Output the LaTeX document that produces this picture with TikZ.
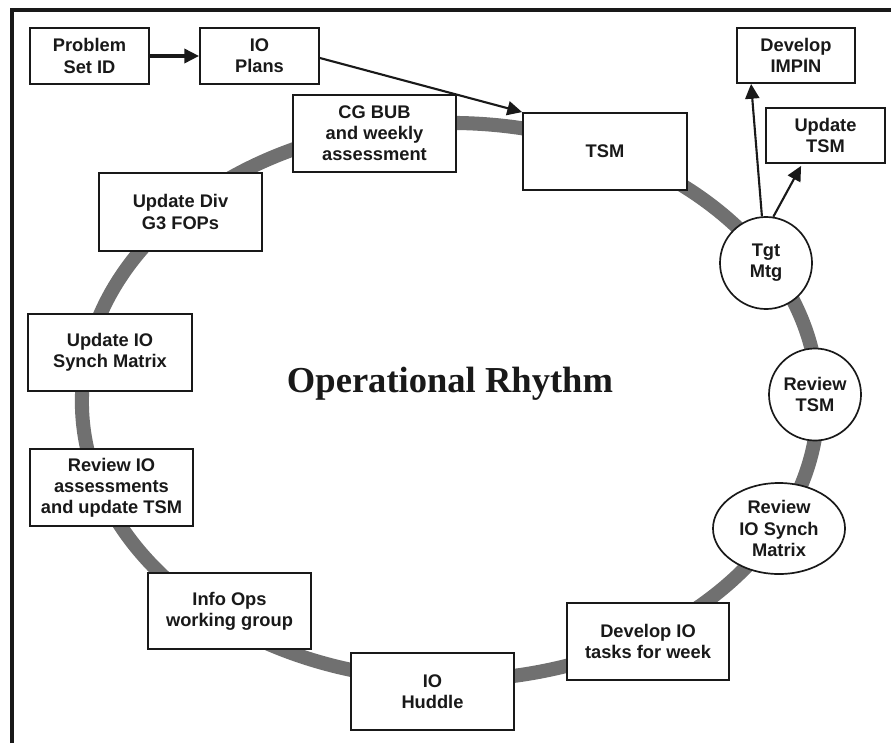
\documentclass[tikz,border=0pt]{standalone}
\usepackage{fontspec}
\setmainfont{Liberation Sans}
\newfontfamily\titlefont{Liberation Serif}
\usetikzlibrary{arrows.meta,shapes.geometric}
\definecolor{ringgray}{HTML}{707070}
\tikzset{
  lbl/.style={font=\fontsize{13}{15}\selectfont\bfseries, align=center, text=black!90},
  box/.style={lbl, draw=black!90, fill=white, line width=1.3pt, rectangle, inner sep=0pt},
  circ/.style={lbl, draw=black!90, fill=white, line width=1.2pt, circle, inner sep=0pt, minimum size=2.3cm},
  oval/.style={lbl, draw=black!90, fill=white, line width=1.2pt, ellipse, inner sep=0pt, minimum width=3.3cm, minimum height=2.275cm},
  ring/.style={draw=ringgray, line width=10pt},
  arr/.style={draw=black!90, line width=1.5pt, -{Triangle[length=10.5pt,width=10pt]}},
  frame/.style={draw=black!90, line width=2.2pt}
}
\begin{document}
\begin{tikzpicture}[x=0.025cm,y=-0.025cm]
\useasboundingbox (0,0) rectangle (891,743);
% frame
\coordinate (fbl) at (12,743);
\coordinate (ftl) at (12,10);
\coordinate (ftr) at (891,10);
\draw[frame] (fbl) -- (ftl) -- (ftr);
% ring
\coordinate (rc) at (450,401.5);
\draw[ring] (rc) ellipse [x radius=9.2cm, y radius=6.9625cm];
% title
\node[font=\titlefont\fontsize{26}{30}\selectfont\bfseries, text=black!90] (title) at (450,384) {Operational Rhythm};
% boxes
\node[box, minimum width=2.975cm, minimum height=1.4cm] (prob) at (89.5,56) {Problem\\Set ID};
\node[box, minimum width=2.975cm, minimum height=1.4cm] (plans) at (259.5,56) {IO\\Plans};
\node[box, minimum width=4.075cm, minimum height=1.925cm] (cgbub) at (374.5,133.5) {CG BUB\\and weekly\\assessment};
\node[box, minimum width=4.1cm, minimum height=1.925cm] (tsm) at (605,151.5) {TSM};
\node[box, minimum width=2.95cm, minimum height=1.375cm] (impin) at (796,55.5) {Develop\\IMPIN};
\node[box, minimum width=2.975cm, minimum height=1.375cm] (updtsm) at (825.5,135.5) {Update\\TSM};
\node[circ] (tgt) at (766,263) {Tgt\\Mtg};
\node[circ] (revtsm) at (815,394.5) {Review\\TSM};
\node[oval] (revsynch) at (779,528.5) {Review\\IO Synch\\Matrix};
\node[box, minimum width=4.05cm, minimum height=1.925cm] (devio) at (648,641.5) {Develop IO\\tasks for week};
\node[box, minimum width=4.075cm, minimum height=1.925cm] (huddle) at (432.5,691.5) {IO\\Huddle};
\node[box, minimum width=4.075cm, minimum height=1.9cm] (infoops) at (229.5,611) {Info Ops\\working group};
\node[box, minimum width=4.075cm, minimum height=1.925cm] (reviewio) at (111.5,487.5) {Review IO\\assessments\\and update TSM};
\node[box, minimum width=4.1cm, minimum height=1.925cm] (updsynch) at (110,352.5) {Update IO\\Synch Matrix};
\node[box, minimum width=4.075cm, minimum height=1.95cm] (g3fops) at (180.5,212) {Update Div\\G3 FOPs};
% arrows
\draw[arr, line width=2.4pt] (prob.east) -- (plans.west);
\draw[arr] ([yshift=-0.05cm]plans.east) -- (tsm.north west);
\draw[arr] (tgt.95) -- ([xshift=0.375cm]impin.south west);
\draw[arr] (tgt.81) -- ([xshift=0.9cm,yshift=-0.05cm]updtsm.south west);
\end{tikzpicture}
\end{document}
